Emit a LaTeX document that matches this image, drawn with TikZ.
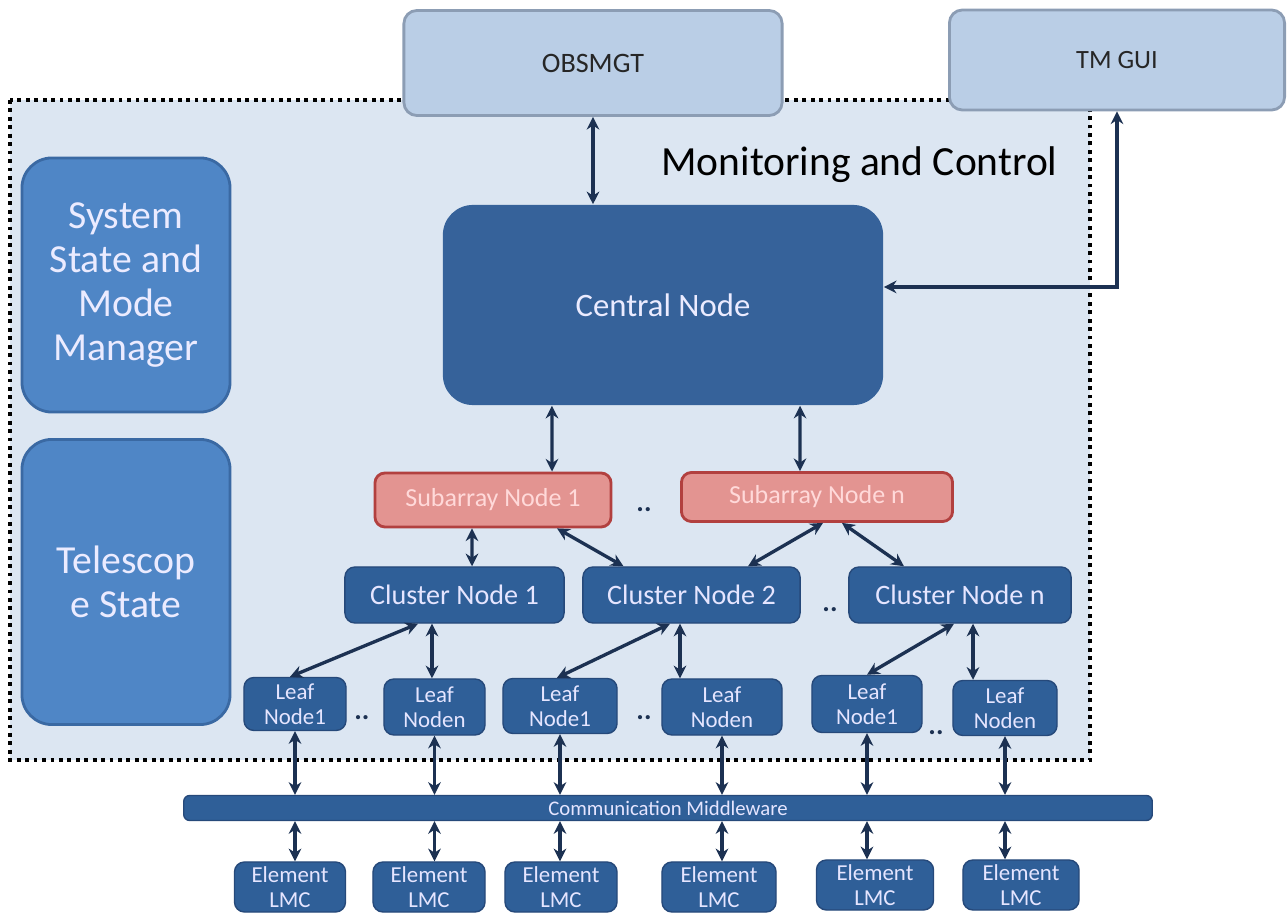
\documentclass[tikz,border=0pt]{standalone}
\usepackage{fontspec}
\setmainfont{Carlito}
\usetikzlibrary{arrows.meta}
\usetikzlibrary{positioning}
\definecolor{outerfill}{HTML}{BACEE6}
\definecolor{outerdraw}{HTML}{8C9DB4}
\definecolor{mcfill}{HTML}{DCE6F2}
\definecolor{statefill}{HTML}{4F86C6}
\definecolor{statedraw}{HTML}{3A69A3}
\definecolor{centralfill}{HTML}{36629A}
\definecolor{nodefill}{HTML}{2F5F98}
\definecolor{nodedraw}{HTML}{26497A}
\definecolor{subfill}{HTML}{E39491}
\definecolor{subdraw}{HTML}{B2403F}
\definecolor{linkcol}{HTML}{1C3152}
\tikzset{
    outer/.style={
           rectangle,rounded corners=1.3mm,
           draw=outerdraw, thick,
           fill=outerfill,
           text=black!85,
           font=\fontsize{8}{9}\selectfont,
           },
}
\tikzset{
    state/.style={
           rectangle,rounded corners=3mm,
           draw=statedraw, thick,
           fill=statefill,
           text=white!92!blue,
           align=center,
           minimum width=2.08cm,
           font=\fontsize{11.3}{12.6}\selectfont,
           },
}
\tikzset{
    central/.style={
           rectangle,rounded corners=3mm,
           fill=centralfill,
           text=white!92!blue,
           minimum width=4.4cm,minimum height=2cm,
           font=\fontsize{9.3}{11}\selectfont,
           },
}
\tikzset{
    subnode/.style={
           rectangle,rounded corners=1mm,
           draw=subdraw, thick,
           fill=subfill,
           text=white!85!red,
           font=\fontsize{7.4}{9}\selectfont,
           },
}
\tikzset{
    clnode/.style={
           rectangle,rounded corners=1mm,
           draw=nodedraw,
           fill=nodefill,
           text=white!90!blue,
           minimum height=0.56cm,
           font=\fontsize{8}{9}\selectfont,
           },
}
\tikzset{
    leafnode/.style={
           rectangle,rounded corners=1mm,
           draw=nodedraw,
           fill=nodefill,
           text=white!90!blue,
           align=center,inner sep=1pt,
           font=\fontsize{6.5}{7.1}\selectfont,
           },
}
\tikzset{
    dots/.style={
           text=linkcol,
           font=\bfseries\fontsize{8}{9}\selectfont,
           },
}
\tikzset{
    link/.style={
           <->,>={Stealth[length=3.6pt,width=3.6pt]},
           draw=linkcol, line width=0.95pt,
           },
}
\begin{document}
\begin{tikzpicture}[x=0.01cm,y=-0.01cm]
\useasboundingbox (0,0) rectangle (1287,913);
% monitoring and control frame
\draw[fill=mcfill,line width=1.1pt,dash pattern=on 1.1pt off 1.3pt](10,100) rectangle (1090,760);
\node[anchor=east,font=\fontsize{11.8}{13}\selectfont](mctitle) at (1070,165){Monitoring and Control};
% external systems
\node[outer,minimum width=3.78cm,minimum height=1.05cm](obs) at (593,63){OBSMGT};
\node[outer,minimum width=3.35cm,minimum height=1cm](tmgui) at (1117,60){\fontsize{7.5}{9}\selectfont TM GUI};
% state boxes
\node[state,minimum height=2.54cm](ssmm) at (126,285){System\\State and\\Mode\\Manager};
\node[state,minimum height=2.85cm](tstate) at (126,582){Telescop\\e State};
% central and subarrays
\node[central](central) at (663,305){Central Node};
\node[subnode,minimum width=2.36cm,minimum height=0.54cm](s1) at (493,500){Subarray Node 1};
\node[dots](d1) at (644,510){..};
\node[subnode,minimum width=2.71cm,minimum height=0.49cm](sn) at (817,497){Subarray Node n};
% clusters
\node[clnode,minimum width=2.19cm](c1) at (454.5,595){Cluster Node 1};
\node[clnode,minimum width=2.17cm](c2) at (691.5,595){Cluster Node 2};
\node[dots](d2) at (830,610){..};
\node[clnode,minimum width=2.22cm](cn) at (960,595){Cluster Node n};
% leaves
\node[leafnode,minimum width=1.02cm,minimum height=0.53cm](l1a) at (295,704){Leaf\\Node1};
\node[dots](d3) at (362,718){..};
\node[leafnode,minimum width=1.01cm,minimum height=0.56cm](lna) at (434.5,707){Leaf\\Noden};
\node[leafnode,minimum width=1.14cm,minimum height=0.55cm](l1b) at (560,706){Leaf\\Node1};
\node[dots](d4) at (644,718){..};
\node[leafnode,minimum width=1.2cm,minimum height=0.56cm](lnb) at (722,707){Leaf\\Noden};
\node[leafnode,minimum width=1.1cm,minimum height=0.57cm](l1c) at (867,704){Leaf\\Node1};
\node[dots](d5) at (936,733){..};
\node[leafnode,minimum width=1.04cm,minimum height=0.55cm](lnc) at (1005,708){Leaf\\Noden};
% middleware and elements
\node[leafnode,minimum width=9.68cm,minimum height=0.25cm,rounded corners=0.6mm,font=\fontsize{5.9}{6}\selectfont](mw) at (668,808){Communication Middleware};
\node[leafnode,minimum width=1.11cm,minimum height=0.5cm](e1) at (290,887){Element\\LMC};
\node[leafnode,minimum width=1.12cm,minimum height=0.5cm](e2) at (429,887){Element\\LMC};
\node[leafnode,minimum width=1.12cm,minimum height=0.5cm](e3) at (561,887){Element\\LMC};
\node[leafnode,minimum width=1.14cm,minimum height=0.5cm](e4) at (719,887){Element\\LMC};
\node[leafnode,minimum width=1.17cm,minimum height=0.5cm](e5) at (875,885){Element\\LMC};
\node[leafnode,minimum width=1.16cm,minimum height=0.5cm](e6) at (1021,885){Element\\LMC};
% links
\draw[link](obs.south) -- (obs.south |- central.north);
\draw[link]([yshift=1.8mm]central.east) -| (tmgui.south);
\draw[link]([xshift=-1.11cm]central.south) -- ([xshift=5.9mm]s1.north);
\draw[link]([xshift=1.37cm]central.south) -- ([xshift=-1.7mm]sn.north);
\draw[link]([xshift=-2.1mm]s1.south) -- ([xshift=1.75mm]c1.north);
\draw[link]([xshift=6.4mm]s1.south) -- ([xshift=-6.8mm]c2.north);
\draw[link]([xshift=0.6mm]sn.south) -- ([xshift=5.65mm]c2.north);
\draw[link]([xshift=2.5mm]sn.south) -- ([xshift=-5.6mm]cn.north);
\draw[link]([xshift=-3.65mm]c1.south) -- ([xshift=-0.5mm]l1a.north);
\draw[link]([xshift=-2.25mm]c1.south) -- ([xshift=-2.25mm]c1.south |- lna.north);
\draw[link]([xshift=-2.15mm]c2.south) -- ([xshift=-0.3mm]l1b.north);
\draw[link]([xshift=-1.15mm]c2.south) -- ([xshift=-1.15mm]c2.south |- lnb.north);
\draw[link]([xshift=-0.6mm]cn.south) -- (l1c.north);
\draw[link]([xshift=1.3mm]cn.south) -- ([xshift=1.3mm]cn.south |- lnc.north);
\foreach \l/\e in {l1a/e1,lna/e2,l1b/e3,lnb/e4,l1c/e5,lnc/e6}{
\draw[link](\l.south) -- (\l.south |- mw.north);
\draw[link](\l.south |- mw.south) -- (\l.south |- \e.north);
}
\end{tikzpicture}
\end{document}
